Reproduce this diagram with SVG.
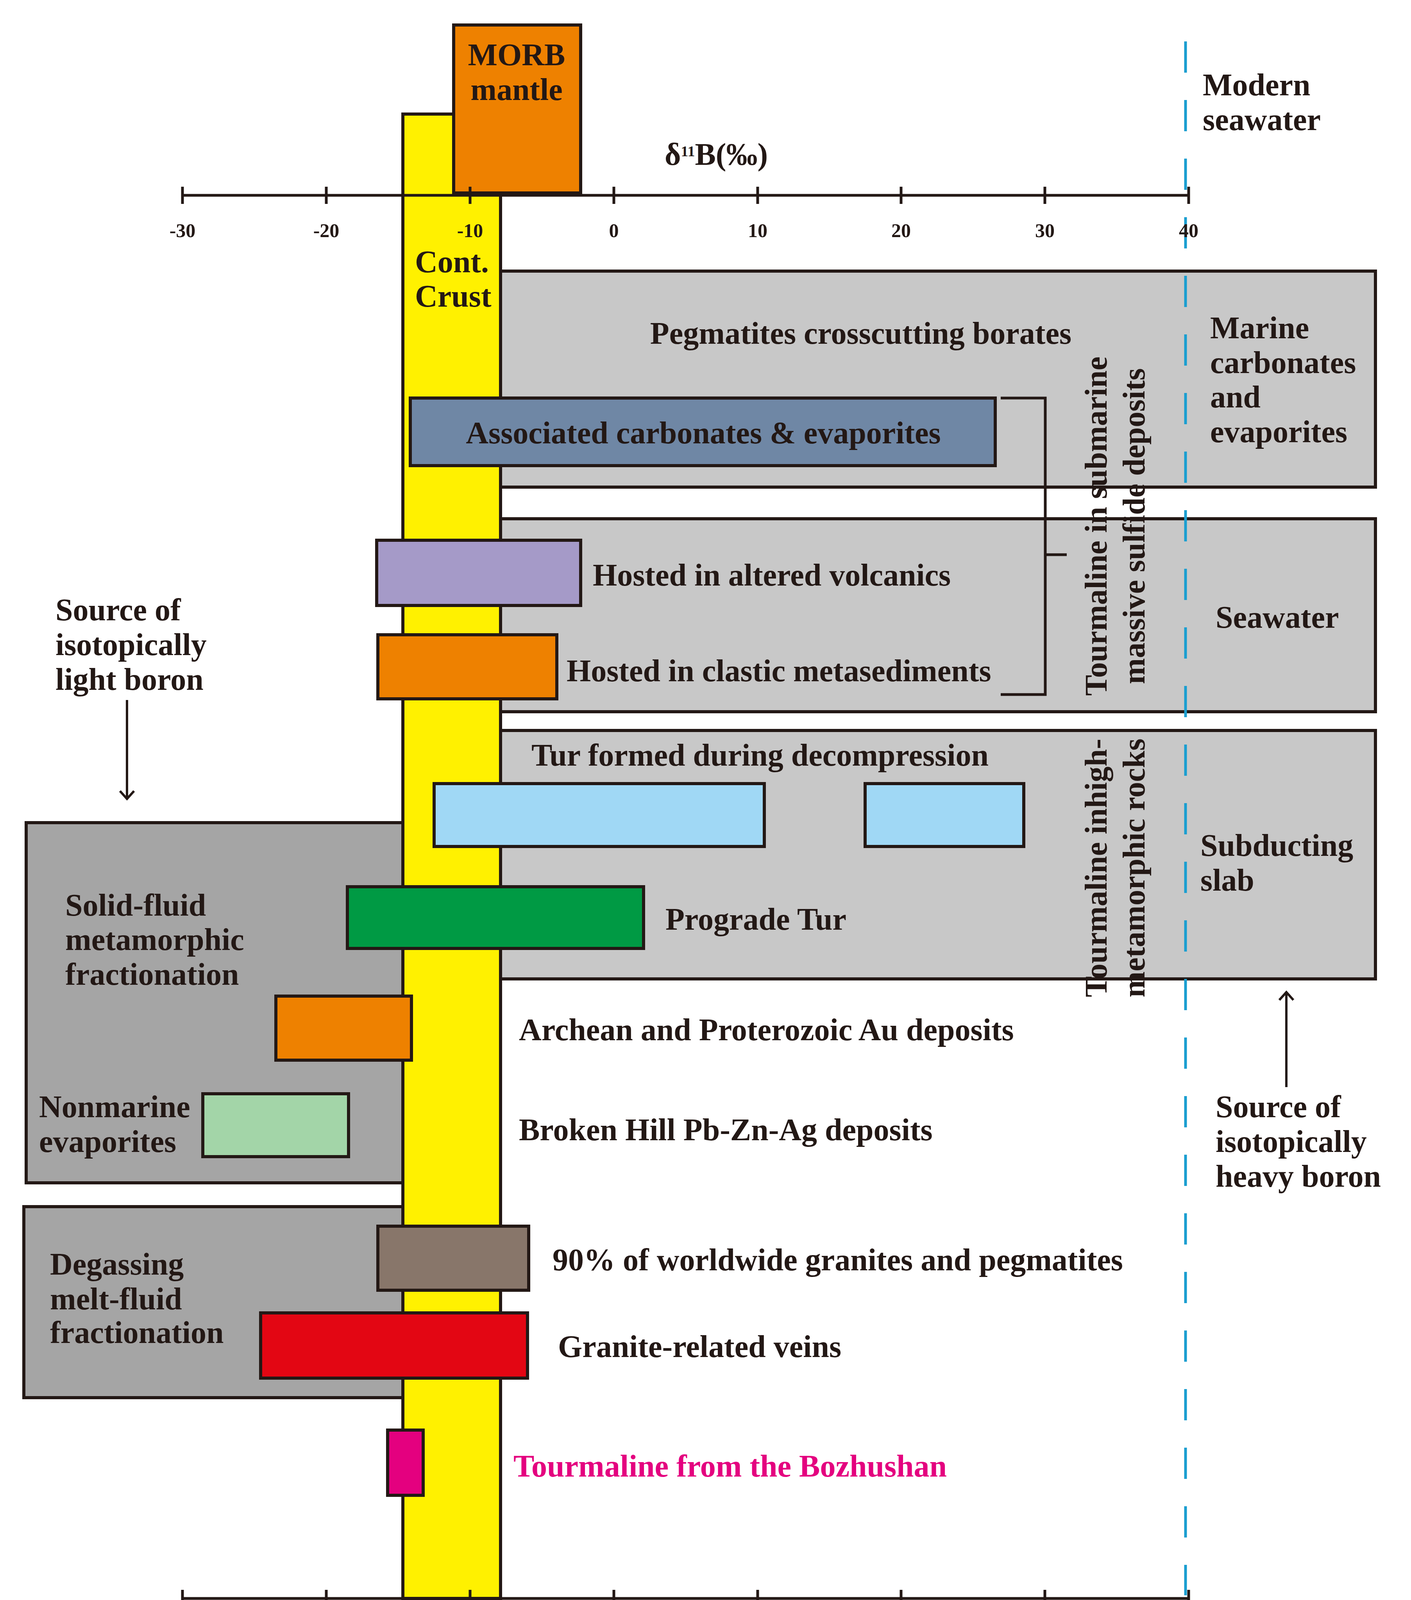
<svg xmlns="http://www.w3.org/2000/svg" width="3611" height="4375" viewBox="0 0 3611 4375">
<style>
.b{stroke:#231815;stroke-width:8}
.t{font-family:"Liberation Serif",serif;font-weight:bold;font-size:80px;fill:#231815}
.a{font-family:"Liberation Serif",serif;font-weight:bold;font-size:50px;fill:#231815;text-anchor:middle}
.ax{stroke:#231815;stroke-width:7;fill:none}
</style>
<defs><marker id="ar" markerWidth="44" markerHeight="44" refX="22" refY="22" orient="auto" markerUnits="userSpaceOnUse" viewBox="0 0 44 44"><path d="M2,4 L22,22 L2,40" fill="none" stroke="#231815" stroke-width="6"/></marker></defs>
<rect width="3611" height="4375" fill="#fff"/>
<g id="box-marine"><rect class="b" x="1281" y="694" width="2239" height="553" fill="#c8c8c8"/></g>
<g id="box-seawater"><rect class="b" x="1281" y="1328" width="2239" height="494" fill="#c8c8c8"/></g>
<g id="box-slab"><rect class="b" x="1281" y="1870" width="2239" height="636" fill="#c8c8c8"/></g>
<g id="box-solid"><rect class="b" x="67" y="2106" width="964" height="922" fill="#a5a5a5"/></g>
<g id="box-degas"><rect class="b" x="61" y="3089" width="970" height="489" fill="#a5a5a5"/></g>
<g id="dash"><line x1="3034" y1="106" x2="3034" y2="4084" stroke="#1a9ed0" stroke-width="7" stroke-dasharray="80,70"/></g>
<g id="crust"><rect class="b" x="1031" y="292" width="250" height="3800" fill="#fff100"/>
<text class="t" x="1062" y="697">Cont.</text><text class="t" x="1062" y="785">Crust</text></g>
<g id="morb"><rect class="b" x="1161" y="64" width="325" height="430" fill="#ee8100"/>
<text class="t" x="1322" y="167" text-anchor="middle">MORB</text><text class="t" x="1322" y="256" text-anchor="middle">mantle</text></g>
<g id="axes">
<line class="ax" x1="467" y1="500" x2="3042" y2="500"/>
<line class="ax" x1="467" y1="4092" x2="3042" y2="4092"/>
<path class="ax" d="M467,478v44M835,478v44M1203,478v44M1571,478v44M1939,478v44M2306,478v44M2674,478v44M3042,478v44M467,4070v44M835,4070v44M1203,4070v44M1571,4070v44M1939,4070v44M2306,4070v44M2674,4070v44M3042,4070v44"/>
<g class="a"><text x="467" y="607">-30</text><text x="835" y="607">-20</text><text x="1203" y="607">-10</text><text x="1571" y="607">0</text><text x="1939" y="607">10</text><text x="2306" y="607">20</text><text x="2674" y="607">30</text><text x="3042" y="607">40</text>
<text x="467" y="4200">-30</text><text x="835" y="4200">-20</text><text x="1203" y="4200">-10</text><text x="1571" y="4200">0</text><text x="1939" y="4200">10</text><text x="2306" y="4200">20</text><text x="2674" y="4200">30</text><text x="3042" y="4200">40</text></g>
<text class="t" x="1833" y="422" text-anchor="middle" font-size="62">δ<tspan font-size="38" dy="-22">11</tspan><tspan dy="22">B(‰)</tspan></text>
<text class="t" x="1764" y="4310" text-anchor="middle" font-size="62">δ<tspan font-size="38" dy="-22">11</tspan><tspan dy="22">B(‰)</tspan></text>
</g>
<g id="bars">
<rect class="b" x="1050" y="1019" width="1497" height="173" fill="#6f87a5"/>
<rect class="b" x="964" y="1383" width="522" height="167" fill="#a59ac8"/>
<rect class="b" x="967" y="1625" width="458" height="164" fill="#ee8100"/>
<rect class="b" x="1111" y="2006" width="845" height="161" fill="#a0d8f5"/>
<rect class="b" x="2214" y="2006" width="406" height="161" fill="#a0d8f5"/>
<rect class="b" x="889" y="2270" width="758" height="158" fill="#009a44"/>
<rect class="b" x="706" y="2550" width="347" height="164" fill="#ee8100"/>
<rect class="b" x="519" y="2800" width="373" height="161" fill="#a3d5a8"/>
<rect class="b" x="967" y="3139" width="386" height="164" fill="#88766a"/>
<rect class="b" x="667" y="3361" width="683" height="167" fill="#e30613"/>
<rect class="b" x="992" y="3661" width="91" height="167" fill="#e4007f"/>
</g>
<g id="connectors">
<path d="M2561,1019H2675V1778H2561M2675,1420H2730" fill="none" stroke="#231815" stroke-width="7"/>
<line x1="325" y1="1792" x2="325" y2="2045" stroke="#231815" stroke-width="6" marker-end="url(#ar)"/>
<line x1="3292" y1="2783" x2="3292" y2="2540" stroke="#231815" stroke-width="6" marker-end="url(#ar)"/>
</g>
<g id="labels" class="t">
<text x="3078" y="244">Modern</text><text x="3078" y="333">seawater</text>
<text x="2203" y="880" text-anchor="middle">Pegmatites crosscutting borates</text>
<text x="3097" y="866">Marine</text><text x="3097" y="955">carbonates</text><text x="3097" y="1043">and</text><text x="3097" y="1132">evaporites</text>
<text x="1800" y="1135" text-anchor="middle">Associated carbonates  &amp; evaporites</text>
<text x="1517" y="1499">Hosted in altered volcanics</text>
<text x="1450" y="1744">Hosted in clastic metasediments</text>
<text x="3111" y="1607">Seawater</text>
<text transform="translate(2832,1347) rotate(-90)" text-anchor="middle">Tourmaline in submarine</text>
<text transform="translate(2929,1347) rotate(-90)" text-anchor="middle">massive sulfide deposits</text>
<text x="1945" y="1960" text-anchor="middle">Tur formed during decompression</text>
<text x="3072" y="2191">Subducting</text><text x="3072" y="2280">slab</text>
<text transform="translate(2832,2222) rotate(-90)" text-anchor="middle">Tourmaline inhigh-</text>
<text transform="translate(2929,2222) rotate(-90)" text-anchor="middle">metamorphic rocks</text>
<text x="1703" y="2380">Prograde Tur</text>
<text x="167" y="2344">Solid-fluid</text><text x="167" y="2432">metamorphic</text><text x="167" y="2521">fractionation</text>
<text x="1328" y="2663">Archean and Proterozoic Au deposits</text>
<text x="100" y="2860">Nonmarine</text><text x="100" y="2949">evaporites</text>
<text x="1328" y="2919">Broken Hill Pb-Zn-Ag deposits</text>
<text x="1414" y="3252">90% of worldwide granites and pegmatites</text>
<text x="1428" y="3474">Granite-related veins</text>
<text x="128" y="3263">Degassing</text><text x="128" y="3352">melt-fluid</text><text x="128" y="3438">fractionation</text>
<text x="1314" y="3780" fill="#e4007f">Tourmaline from the Bozhushan</text>
<text x="142" y="1588">Source of</text><text x="142" y="1677">isotopically</text><text x="142" y="1766">light boron</text>
<text x="3111" y="2860">Source of</text><text x="3111" y="2949">isotopically</text><text x="3111" y="3038">heavy boron</text>
</g>
</svg>
